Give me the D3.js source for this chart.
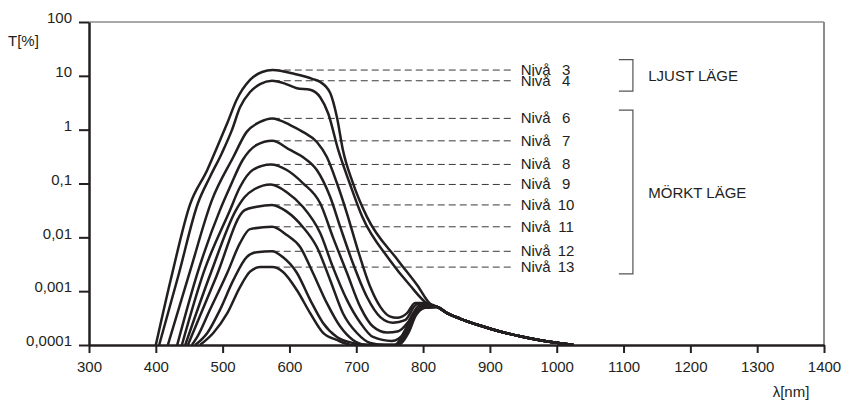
<!DOCTYPE html>
<html>
<head>
<meta charset="utf-8">
<script src="https://cdn.jsdelivr.net/npm/d3@7"></script>
<style>
  html, body { margin: 0; padding: 0; background: #fff; }
  svg text { font-family: "Liberation Sans", Arial, sans-serif; fill: #231f20; }
</style>
</head>
<body>
<svg id="chart" width="843" height="401"></svg>
<script>
// ---------- data ----------
const xTicks = [300, 400, 500, 600, 700, 800, 900, 1000, 1100, 1200, 1300, 1400];
const yTicks = [100, 10, 1, 0.1, 0.01, 0.001, 0.0001];
const yTickLabels = ["100", "10", "1", "0,1", "0,01", "0,001", "0,0001"];

const levelNames = ["3", "4", "6", "7", "8", "9", "10", "11", "12", "13"];
const levelPeaks = [12.8, 8.1, 1.62, 0.62, 0.226, 0.096, 0.040, 0.0157, 0.0055, 0.0028];

// shared long-wavelength tail [lambda nm, T %]
const tail = [[821, 0.00051], [836, 0.00039], [855, 0.00031], [885, 0.00023], [915, 0.000178],
              [945, 0.000145], [975, 0.000123], [1000, 0.00011], [1025, 0.0001]];

const level3 = [[400, 0.0001], [424, 0.0020], [451, 0.040], [477, 0.178], [492, 0.48], [507, 1.33],
  [521, 3.6], [541, 8.4], [559, 11.8], [575, 12.8], [608, 10.8], [635, 8.7], [646, 7.7], [661, 4.8],
  [671, 1.72], [680, 0.42], [695, 0.102], [716, 0.024], [762, 0.0038], [791, 0.0013], [812, 0.00056]];
const level4 = [[405, 0.0001], [434, 0.0020], [463, 0.043], [481, 0.132], [499, 0.37], [514, 0.99],
  [526, 2.6], [541, 5.0], [556, 7.0], [574, 8.1], [590, 7.4], [611, 5.9], [631, 5.5], [646, 4.0],
  [658, 2.0], [673, 0.42], [690, 0.102], [709, 0.024], [750, 0.0038], [780, 0.0013], [807, 0.00058]];
const level6 = [[418, 0.0001], [451, 0.0023], [484, 0.049], [516, 0.31], [536, 0.91], [556, 1.39],
  [574, 1.62], [601, 1.22], [620, 0.91], [641, 0.59], [656, 0.31], [671, 0.102], [686, 0.028],
  [701, 0.0066], [721, 0.00119], [736, 0.00051], [750, 0.00034], [761, 0.00032], [776, 0.00039],
  [788, 0.00060], [803, 0.00060]];
const level7 = [[432, 0.0001], [463, 0.0023], [496, 0.032], [511, 0.086], [530, 0.273], [551, 0.52],
  [574, 0.62], [601, 0.42], [620, 0.31], [641, 0.178], [661, 0.056], [676, 0.0156], [695, 0.0033],
  [716, 0.00078], [736, 0.00033], [755, 0.00026], [773, 0.00029], [791, 0.00057], [810, 0.00055]];
const level8 = [[439, 0.0001], [472, 0.0023], [511, 0.032], [526, 0.086], [545, 0.178], [572, 0.226],
  [596, 0.178], [620, 0.102], [646, 0.043], [665, 0.0101], [686, 0.0022], [706, 0.00051],
  [725, 0.00022], [746, 0.00017], [763, 0.00018], [778, 0.00027], [794, 0.00053], [813, 0.00053]];
const level9 = [[444, 0.0001], [483, 0.0023], [520, 0.032], [533, 0.056], [548, 0.079], [572, 0.096],
  [596, 0.069], [620, 0.037], [646, 0.012], [665, 0.0028], [686, 0.00069], [706, 0.00026],
  [725, 0.000141], [753, 0.000119], [773, 0.00017], [785, 0.00032], [797, 0.00051], [815, 0.00053]];
const level10 = [[448, 0.0001], [490, 0.0018], [533, 0.032], [551, 0.037], [574, 0.040], [596, 0.030],
  [620, 0.0156], [641, 0.0066], [661, 0.0016], [680, 0.00039], [701, 0.000167], [721, 0.000109],
  [743, 0.0001], [758, 0.0001], [773, 0.00019], [785, 0.00038], [800, 0.00049], [818, 0.00051]];
const level11 = [[454, 0.0001], [462, 0.000141], [481, 0.00045], [507, 0.0022], [526, 0.0078],
  [541, 0.0142], [574, 0.0157], [596, 0.0110], [616, 0.0066], [635, 0.0022], [656, 0.00060],
  [676, 0.00022], [695, 0.000124], [716, 0.0001], [758, 0.0001], [773, 0.00017], [785, 0.00035],
  [800, 0.00049], [818, 0.00051]];
const level12 = [[459, 0.0001], [477, 0.000167], [496, 0.00045], [516, 0.0016], [536, 0.0043],
  [551, 0.0053], [574, 0.0055], [590, 0.0043], [611, 0.0022], [631, 0.00069], [650, 0.00026],
  [671, 0.000141], [695, 0.000109], [721, 0.0001], [761, 0.0001], [776, 0.000167], [788, 0.00035],
  [801, 0.00049], [818, 0.00051]];
const level13 = [[466, 0.0001], [486, 0.000167], [507, 0.00039], [526, 0.00119], [541, 0.0023],
  [556, 0.0028], [574, 0.0028], [590, 0.0023], [611, 0.00105], [631, 0.00039], [650, 0.00017],
  [671, 0.000124], [695, 0.0001], [763, 0.0001], [778, 0.000167], [789, 0.00035], [803, 0.00049],
  [819, 0.00051]];

const levelSeries = [level3, level4, level6, level7, level8, level9, level10, level11, level12, level13];

// bracket groups: [label, T top, T bottom]
const groupNames = ["LJUST LÄGE", "MÖRKT LÄGE"];
const groupTop = [20, 2.3];
const groupBottom = [5.2, 0.0021];

// ---------- drawing ----------
const svg = d3.select("#chart");
const x = d3.scaleLinear().domain([300, 1400]).range([89, 824]);
const y = d3.scaleLog().domain([0.0001, 100]).range([345, 22]);

const ink = "#231f20";

svg.append("defs").append("clipPath").attr("id", "plot")
  .append("rect").attr("x", 89).attr("y", 15).attr("width", 735).attr("height", 330);

// frame: top and right in grey
svg.append("line").attr("x1", 89).attr("x2", 824).attr("y1", 22).attr("y2", 22)
  .attr("stroke", "#8c8c8c").attr("stroke-width", 1.5);
svg.append("line").attr("x1", 824).attr("x2", 824).attr("y1", 22).attr("y2", 345)
  .attr("stroke", "#8c8c8c").attr("stroke-width", 2);

// dashed level lines
const dashStart = 575, dashEnd = 937;
svg.append("g").selectAll("line").data(levelPeaks).join("line")
  .attr("x1", x(dashStart)).attr("x2", x(dashEnd))
  .attr("y1", d => y(d)).attr("y2", d => y(d))
  .attr("stroke", "#3a3a3a").attr("stroke-width", 1).attr("stroke-dasharray", "7,4");

// curves
const line = d3.line().x(d => x(d[0])).y(d => y(d[1])).curve(d3.curveMonotoneX);
svg.append("g").attr("clip-path", "url(#plot)").selectAll("path")
  .data(levelSeries).join("path")
  .attr("d", d => line(d.concat(tail)))
  .attr("fill", "none").attr("stroke", ink).attr("stroke-width", 2.5)
  .attr("stroke-linejoin", "round");

// level labels
const lab = svg.append("g").selectAll("text").data(levelNames).join("text")
  .attr("y", (d, i) => y(levelPeaks[i]) + 5)
  .style("font-size", "15px");
lab.append("tspan").attr("x", x(946)).text("Nivå");
lab.append("tspan").attr("x", x(1014)).attr("text-anchor", "middle").text(d => d);

// brackets
const bx0 = x(1093), bx1 = x(1114);
groupNames.forEach((g, i) => {
  const t = y(groupTop[i]), b = y(groupBottom[i]);
  svg.append("path")
    .attr("d", `M${bx0},${t}H${bx1}V${b}H${bx0}`)
    .attr("fill", "none").attr("stroke", "#555").attr("stroke-width", 1.2);
  svg.append("text").attr("x", x(1137)).attr("y", (t + b) / 2 + 5.5)
    .style("font-size", "15px").text(g);
});

// axes
const xAxis = d3.axisBottom(x).tickValues(xTicks).tickSize(8).tickSizeOuter(0).tickPadding(8)
  .tickFormat(d3.format("d"));
const gx = svg.append("g").attr("transform", "translate(0,345)").call(xAxis);
gx.select(".domain").attr("stroke", ink).attr("stroke-width", 2.5);
gx.selectAll(".tick line").attr("stroke", ink).attr("stroke-width", 2);
gx.selectAll(".tick text").style("font-size", "15px").attr("font-family", null).attr("fill", ink);

const yAxis = d3.axisLeft(y).tickValues(yTicks).tickSize(10).tickSizeOuter(0).tickPadding(7)
  .tickFormat((d, i) => yTickLabels[i]);
const gy = svg.append("g").attr("transform", "translate(89,0)").call(yAxis);
gy.select(".domain").attr("stroke", ink).attr("stroke-width", 2.5);
gy.selectAll(".tick line").attr("stroke", ink).attr("stroke-width", 2);
gy.selectAll(".tick text").style("font-size", "15px").attr("dy", "0.05em").attr("fill", ink);

// axis titles
svg.append("text").attr("x", 8).attr("y", 46).style("font-size", "15px").text("T[%]");
svg.append("text").attr("x", 791).attr("y", 397).attr("text-anchor", "middle")
  .style("font-size", "15px").text("λ[nm]");
</script>
</body>
</html>
